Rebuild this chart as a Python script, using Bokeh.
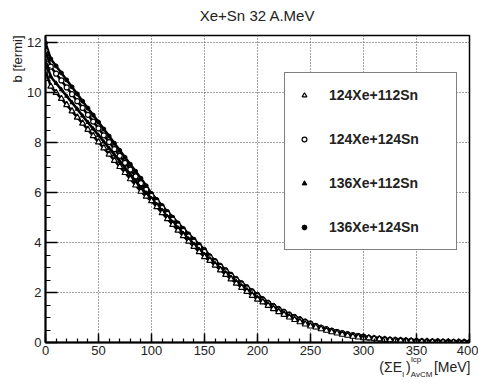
from bokeh.plotting import figure
from bokeh.models import Label, Legend, LegendItem, SingleIntervalTicker, Range1d, Title
from bokeh.embed import file_html
from bokeh.resources import INLINE

# ---- data ----
energy = list(range(0, 405, 5))  # (Sum E_l)^lcp_AvCM [MeV]

series_names = ["124Xe+112Sn", "124Xe+124Sn", "136Xe+112Sn", "136Xe+124Sn"]

b_136_124 = [12.0, 11.36, 11.08, 10.80, 10.52, 10.24, 9.96, 9.67, 9.39, 9.11,
             8.83, 8.55, 8.27, 7.98, 7.70, 7.42, 7.14, 6.86, 6.58, 6.28,
             5.97, 5.73, 5.49, 5.25, 5.02, 4.79, 4.57, 4.35, 4.14, 3.93, 3.73,
             3.48, 3.29, 3.10, 2.92, 2.74, 2.57, 2.40, 2.24, 2.08, 1.93,
             1.76, 1.62, 1.49, 1.37, 1.26, 1.15, 1.05, 0.96, 0.87, 0.79,
             0.69, 0.62, 0.56, 0.50, 0.45, 0.40, 0.36, 0.32, 0.29, 0.26,
             0.20, 0.18, 0.16, 0.14, 0.12, 0.11, 0.10, 0.09, 0.08, 0.07,
             0.06, 0.055, 0.05, 0.045, 0.04, 0.035, 0.03, 0.03, 0.025, 0.02]

b_124_124 = [11.7, 11.05, 10.77, 10.50, 10.22, 9.95, 9.67, 9.40, 9.12, 8.85,
             8.58, 8.30, 8.03, 7.75, 7.48, 7.20, 6.93, 6.65, 6.38, 6.12,
             5.87, 5.63, 5.39, 5.15, 4.92, 4.69, 4.47, 4.25, 4.04, 3.83, 3.63,
             3.41, 3.22, 3.03, 2.85, 2.67, 2.50, 2.33, 2.17, 2.01, 1.86,
             1.71, 1.57, 1.44, 1.32, 1.21, 1.10, 1.00, 0.91, 0.82, 0.74,
             0.66, 0.59, 0.53, 0.47, 0.42, 0.37, 0.33, 0.29, 0.26, 0.23,
             0.19, 0.17, 0.15, 0.13, 0.11, 0.10, 0.09, 0.08, 0.07, 0.06,
             0.05, 0.045, 0.04, 0.035, 0.03, 0.025, 0.02, 0.02, 0.015, 0.01]

b_136_112 = [11.3, 10.65, 10.39, 10.13, 9.87, 9.61, 9.35, 9.08, 8.82, 8.56,
             8.30, 8.04, 7.78, 7.52, 7.26, 6.99, 6.73, 6.47, 6.21, 5.99,
             5.77, 5.53, 5.29, 5.05, 4.82, 4.59, 4.37, 4.15, 3.94, 3.73, 3.53,
             3.35, 3.16, 2.97, 2.79, 2.61, 2.44, 2.27, 2.11, 1.95, 1.80,
             1.67, 1.53, 1.40, 1.28, 1.17, 1.06, 0.96, 0.87, 0.78, 0.70,
             0.64, 0.57, 0.51, 0.45, 0.40, 0.35, 0.31, 0.27, 0.24, 0.21,
             0.19, 0.17, 0.15, 0.13, 0.11, 0.10, 0.09, 0.08, 0.07, 0.06,
             0.05, 0.045, 0.04, 0.035, 0.03, 0.025, 0.02, 0.02, 0.015, 0.01]

b_124_112 = [10.9, 10.26, 10.01, 9.77, 9.52, 9.27, 9.02, 8.78, 8.53, 8.28,
             8.03, 7.79, 7.54, 7.29, 7.04, 6.80, 6.55, 6.30, 6.05, 5.85,
             5.67, 5.43, 5.19, 4.95, 4.72, 4.49, 4.27, 4.05, 3.84, 3.63, 3.43,
             3.28, 3.09, 2.90, 2.72, 2.54, 2.37, 2.20, 2.04, 1.88, 1.73,
             1.62, 1.48, 1.35, 1.23, 1.12, 1.01, 0.91, 0.82, 0.73, 0.65,
             0.61, 0.54, 0.48, 0.42, 0.37, 0.32, 0.28, 0.24, 0.21, 0.18,
             0.18, 0.16, 0.14, 0.12, 0.10, 0.09, 0.08, 0.07, 0.06, 0.05,
             0.04, 0.035, 0.03, 0.025, 0.02, 0.015, 0.01, 0.01, 0.005, 0.0]

FONT = "Liberation Sans"
TXT = "#222222"
NB = "\u00a0"

p = figure(width=478, height=383, x_range=Range1d(0, 400), y_range=Range1d(0, 12.3),
           output_backend="svg", toolbar_location=None, title=None,
           min_border_left=45, min_border_right=9, min_border_top=35, min_border_bottom=41)
p.background_fill_color = "white"
p.border_fill_color = "white"
p.outline_line_color = "black"
p.outline_line_width = 1.5

xt = SingleIntervalTicker(interval=50, num_minor_ticks=5)
yt = SingleIntervalTicker(interval=2, num_minor_ticks=4)
p.xaxis.ticker = xt
p.yaxis.ticker = yt
p.xgrid.ticker = xt
p.ygrid.ticker = yt
p.grid.grid_line_color = "#444444"
p.grid.grid_line_dash = "1 2"
p.grid.grid_line_width = 1

for ax in (p.xaxis, p.yaxis):
    ax.axis_line_color = "black"
    ax.axis_line_width = 2
    ax.major_tick_line_color = "black"
    ax.minor_tick_line_color = "black"
    ax.major_tick_line_width = 1.5
    ax.minor_tick_line_width = 1.2
    ax.major_tick_out = 0
    ax.minor_tick_out = 0
    ax.major_label_text_font = FONT
    ax.major_label_text_font_size = "13px"
    ax.major_label_text_color = TXT
p.xaxis.major_label_standoff = 3
p.yaxis.major_label_standoff = 4
p.xaxis.major_tick_in = 9
p.xaxis.minor_tick_in = 4
p.yaxis.major_tick_in = 12
p.yaxis.minor_tick_in = 5

# y-axis title at the top end of the axis
p.add_layout(Title(text="b [fermi]", align="right", text_font=FONT, text_font_size="13px",
                   text_font_style="normal", text_color=TXT, standoff=0), "left")

# x-axis title pieces (placed in side panels so they are not clipped by the frame)
sup = Label(x=344.8, y=-0.68, text="lcp", text_align="left", text_baseline="middle",
            text_font=FONT, text_font_size="8px", text_color=TXT)
p.add_layout(sup, "above")
p.add_layout(Title(text="Xe+Sn 32 A.MeV", align="center", vertical_align="bottom",
                   text_font=FONT, text_font_size="15px", text_font_style="normal",
                   text_color=TXT, standoff=6), "above")
main = Label(x=400.9, y=-1.0, text="(\u03a3E" + NB + ")" + NB * 6 + "[MeV]",
             text_align="right", text_baseline="middle",
             text_font=FONT, text_font_size="14px", text_color=TXT)
p.add_layout(main, "below")
sub = Label(x=336.6, y=-1.28, text="l" + NB * 3 + "AvCM", text_align="left", text_baseline="middle",
            text_font=FONT, text_font_size="8px", text_color=TXT)
p.add_layout(sub, "below")

# data curves
r1l = p.line(energy, b_136_124, line_color="black", line_width=2.5)
r1 = p.scatter(energy, b_136_124, marker="circle", size=4, fill_color="black", line_color="black")
r2l = p.line(energy, b_124_124, line_color="black", line_width=2.5)
r2 = p.scatter(energy, b_124_124, marker="circle", size=5, fill_color="white", line_color="black", line_width=1.2)
r3l = p.line(energy, b_136_112, line_color="black", line_width=2.5)
r3 = p.scatter(energy, b_136_112, marker="triangle", size=4, fill_color="black", line_color="black")
r4l = p.line(energy, b_124_112, line_color="black", line_width=2.5)
r4 = p.scatter(energy, b_124_112, marker="triangle", size=6, fill_color="white", line_color="black", line_width=1.2)

legend = Legend(items=[
    LegendItem(label=series_names[0], renderers=[r4]),
    LegendItem(label=series_names[1], renderers=[r2]),
    LegendItem(label=series_names[2], renderers=[r3]),
    LegendItem(label=series_names[3], renderers=[r1]),
], location=(239, 92))
legend.margin = 0
legend.padding = 12
legend.spacing = 24
legend.label_height = 20
legend.glyph_height = 12
legend.glyph_width = 14
legend.label_standoff = 18
legend.label_width = 115
legend.label_text_font = FONT
legend.label_text_font_style = "bold"
legend.label_text_font_size = "14px"
legend.label_text_color = TXT
legend.border_line_color = "black"
legend.border_line_width = 1.5
legend.background_fill_color = "white"
legend.background_fill_alpha = 1.0
p.add_layout(legend)

open("out.html", "w").write(file_html(p, INLINE))
